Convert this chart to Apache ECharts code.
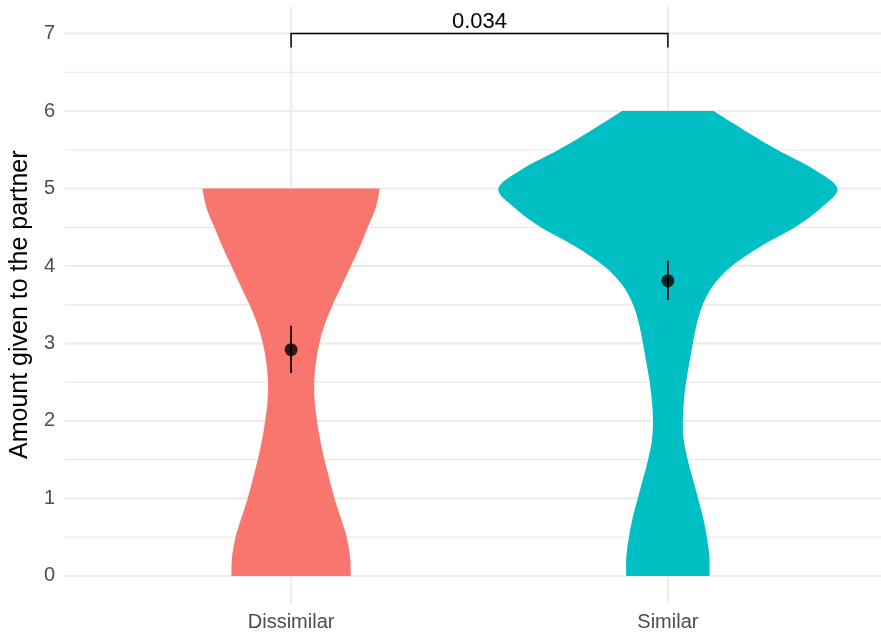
<!DOCTYPE html>
<html><head><meta charset="utf-8">
<script src="https://cdn.jsdelivr.net/npm/echarts@6/dist/echarts.min.js"></script>
<style>html,body{margin:0;padding:0;background:#fff}#c{width:881px;height:635px}</style>
</head><body><div id="c"></div>
<script>
// ---- data ----
const categories = ['Dissimilar', 'Similar'];
const colors = ['#F8766D', '#00BFC4'];
// density grid (y values) and relative violin densities (max of all = 1)
const yDissimilar = [0,0.25,0.5,0.75,1,1.25,1.5,1.75,2,2.25,2.5,2.75,3,3.25,3.5,3.75,4,4.25,4.5,4.75,5];
const densDissimilar = [0.352,0.348,0.328,0.293,0.256,0.226,0.197,0.172,0.153,0.139,0.136,0.146,0.166,0.199,0.245,0.299,0.352,0.405,0.452,0.499,0.524];
const ySimilar = [0,0.25,0.5,0.75,1,1.25,1.5,1.75,2,2.25,2.5,2.75,3,3.25,3.5,3.75,4,4.25,4.5,4.75,5,5.25,5.5,5.75,6];
const densSimilar = [0.246,0.245,0.230,0.208,0.178,0.147,0.117,0.094,0.088,0.094,0.107,0.127,0.147,0.170,0.205,0.267,0.377,0.544,0.749,0.903,1.000,0.860,0.645,0.452,0.270];
const means = [2.92, 3.81];
const lowers = [2.62, 3.56];
const uppers = [3.23, 4.07];
const yTicks = [0, 1, 2, 3, 4, 5, 6, 7];
const yMinorTicks = [0.5, 1.5, 2.5, 3.5, 4.5, 5.5, 6.5];
const xTicks = [1, 2];
const pLabel = '0.034';
const bracketY = 7;
const bracketTip = 0.18;
const yTitle = 'Amount given to the partner';

// ---- build ----
const violinData = [
  {pos: 1, ys: yDissimilar, ds: densDissimilar, color: colors[0]},
  {pos: 2, ys: ySimilar, ds: densSimilar, color: colors[1]}
];
const HALF = 0.45;
const FONT = 'Liberation Sans, Arial, sans-serif';

function smoothSide(pts) {
  let s = '';
  for (let i = 0; i < pts.length - 1; i++) {
    const p0 = pts[Math.max(0, i - 1)], p1 = pts[i], p2 = pts[i + 1], p3 = pts[Math.min(pts.length - 1, i + 2)];
    const c1 = [p1[0] + (p2[0] - p0[0]) / 6, p1[1] + (p2[1] - p0[1]) / 6];
    const c2 = [p2[0] - (p3[0] - p1[0]) / 6, p2[1] - (p3[1] - p1[1]) / 6];
    s += ' C' + c1[0] + ' ' + c1[1] + ' ' + c2[0] + ' ' + c2[1] + ' ' + p2[0] + ' ' + p2[1];
  }
  return s;
}

const gridLines = [
  ...yMinorTicks.map(v => ['y', v, 1.3]),
  ...yTicks.map(v => ['y', v, 2]),
  ...xTicks.map(v => ['x', v, 2])
];

const chart = echarts.init(document.getElementById('c'), null, {renderer: 'canvas'});
const option = {
  animation: false,
  backgroundColor: '#fff',
  grid: {left: 63.5, top: 6.5, right: 0, bottom: 32, containLabel: false},
  xAxis: {
    type: 'value', min: 0.4, max: 2.5656,
    axisLine: {show: false}, axisTick: {show: false}, splitLine: {show: false},
    axisLabel: {
      customValues: xTicks, margin: 9,
      formatter: v => categories[Math.round(v) - 1] || '',
      color: '#4D4D4D', fontSize: 20, fontFamily: FONT
    }
  },
  yAxis: {
    type: 'value', min: -0.35, max: 7.35,
    axisLine: {show: false}, axisTick: {show: false}, splitLine: {show: false},
    axisLabel: {
      customValues: yTicks, margin: 10,
      color: '#4D4D4D', fontSize: 20, fontFamily: FONT
    },
    name: yTitle, nameLocation: 'middle', nameGap: 21,
    nameTextStyle: {color: '#000', fontSize: 25, fontFamily: FONT}
  },
  series: [
    {
      type: 'custom', z: 0, silent: true, clip: true,
      data: gridLines.map((g, i) => [i]),
      renderItem: function (params, api) {
        const g = gridLines[params.dataIndex];
        const cs = params.coordSys;
        if (g[0] === 'y') {
          const y = api.coord([1, g[1]])[1];
          return {type: 'line', shape: {x1: cs.x, y1: y, x2: cs.x + cs.width, y2: y}, style: {stroke: '#EBEBEB', lineWidth: g[2]}};
        }
        const x = api.coord([g[1], 0])[0];
        return {type: 'line', shape: {x1: x, y1: cs.y, x2: x, y2: cs.y + cs.height}, style: {stroke: '#EBEBEB', lineWidth: g[2]}};
      }
    },
    {
      type: 'custom', z: 2, silent: true,
      data: violinData.map((d, i) => [d.pos, i]),
      renderItem: function (params, api) {
        const v = violinData[params.dataIndex];
        const right = [], left = [];
        for (let k = 0; k < v.ys.length; k++) right.push(api.coord([v.pos + HALF * v.ds[k], v.ys[k]]));
        for (let k = v.ys.length - 1; k >= 0; k--) left.push(api.coord([v.pos - HALF * v.ds[k], v.ys[k]]));
        const d = 'M' + right[0][0] + ' ' + right[0][1] + smoothSide(right) +
          ' L' + left[0][0] + ' ' + left[0][1] + smoothSide(left) + ' Z';
        return {type: 'path', shape: {pathData: d}, style: {fill: v.color, stroke: null}};
      }
    },
    {
      type: 'custom', z: 3, silent: true,
      data: means.map((m, i) => [i + 1, lowers[i], uppers[i]]),
      renderItem: function (params, api) {
        const a = api.coord([api.value(0), api.value(1)]);
        const b = api.coord([api.value(0), api.value(2)]);
        return {type: 'line', shape: {x1: a[0], y1: a[1], x2: b[0], y2: b[1]}, style: {stroke: '#000', lineWidth: 1.8}};
      }
    },
    {
      type: 'scatter', z: 4, silent: true,
      data: means.map((m, i) => [i + 1, m]),
      symbol: 'circle', symbolSize: 13, itemStyle: {color: '#000'}
    },
    {
      type: 'custom', z: 4, silent: true,
      data: [[1, 2, bracketY]],
      renderItem: function (params, api) {
        const x1 = api.value(0), x2 = api.value(1), y = api.value(2);
        const p1 = api.coord([x1, y - bracketTip]), p2 = api.coord([x1, y]);
        const p3 = api.coord([x2, y]), p4 = api.coord([x2, y - bracketTip]);
        const pm = api.coord([(x1 + x2) / 2, y]);
        return {type: 'group', children: [
          {type: 'polyline', shape: {points: [p1, p2, p3, p4]}, style: {stroke: '#000', lineWidth: 1.5, fill: null}},
          {type: 'text', x: pm[0], y: pm[1] - 1, style: {text: pLabel, align: 'center', verticalAlign: 'bottom', fill: '#000', fontSize: 22, fontFamily: FONT}}
        ]};
      }
    }
  ]
};
chart.setOption(option);
</script></body></html>
